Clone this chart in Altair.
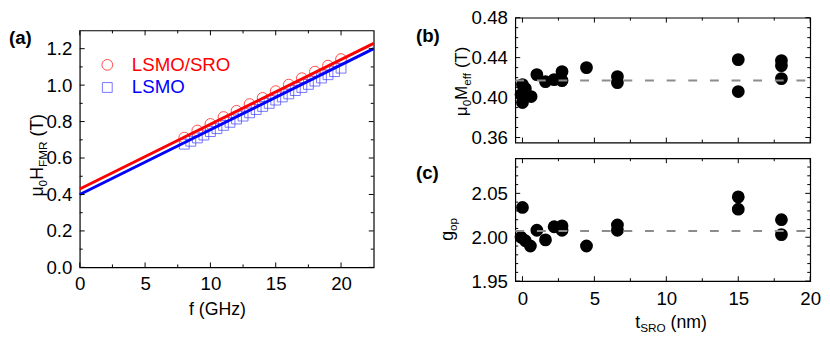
import altair as alt
import pandas as pd

FONT = "Liberation Sans"

# ---------------- Panel (a) data ----------------
f_sro = [8, 9, 10, 11, 12, 13, 14, 15, 16, 17, 18, 19, 20]
h_sro = [0.712, 0.751, 0.787, 0.825, 0.859, 0.896, 0.930, 0.967, 1.003, 1.038, 1.074, 1.107, 1.143]
f_lsmo = [8.0, 8.5, 9.0, 9.5, 10.0, 10.5, 11.0, 11.5, 12.0, 12.5, 13.0, 13.5, 14.0,
          14.5, 15.0, 15.5, 16.0, 16.5, 17.0, 17.5, 18.0, 18.5, 19.0, 19.5, 20.0]
h_lsmo = [0.676, 0.692, 0.710, 0.726, 0.745, 0.761, 0.779, 0.796, 0.814, 0.830, 0.848, 0.866, 0.883,
          0.900, 0.918, 0.935, 0.952, 0.970, 0.987, 1.004, 1.022, 1.039, 1.057, 1.074, 1.093]
fit_f = [0.0, 22.5]
fit_sro = [0.430, 1.229]
fit_lsmo = [0.400, 1.200]
legend_names = ["LSMO/SRO", "LSMO"]

# ---------------- Panel (b) data ----------------
t_b = [-0.1, 0.0, 0.0, 0.2, 0.6, 1.0, 1.6, 2.2, 2.75, 2.75, 4.45, 6.6, 6.6, 15.0, 15.0, 18.0, 18.0, 18.0]
m_b = [0.403, 0.413, 0.395, 0.409, 0.401, 0.423, 0.416, 0.418, 0.426, 0.417, 0.430, 0.421, 0.415,
       0.438, 0.406, 0.437, 0.432, 0.419]
mean_b = 0.417

# ---------------- Panel (c) data ----------------
t_c = [0.0, -0.1, 0.2, 0.55, 1.0, 1.6, 2.2, 2.75, 2.75, 4.45, 6.6, 6.6, 15.0, 15.0, 18.0, 18.0]
g_c = [2.034, 2.000, 1.996, 1.990, 2.008, 1.997, 2.012, 2.013, 2.008, 1.990, 2.014, 2.008,
       2.046, 2.032, 2.020, 2.003]
mean_c = 2.007
t_range = [-0.5, 20.0]

# ---------------- tick values ----------------
a_xmaj = [0, 5, 10, 15, 20]
a_xmin = [2.5, 7.5, 12.5, 17.5]
a_ymaj = [0.0, 0.2, 0.4, 0.6, 0.8, 1.0, 1.2]
a_ymin = [0.1, 0.3, 0.5, 0.7, 0.9, 1.1]
t_xmaj = [0, 5, 10, 15, 20]
t_xmin = [2.5, 7.5, 12.5, 17.5]
b_ymaj = [0.36, 0.40, 0.44, 0.48]
b_ymin = [0.37, 0.38, 0.39, 0.41, 0.42, 0.43, 0.45, 0.46, 0.47]
c_ymaj = [1.95, 2.00, 2.05]
c_ymin = [1.96, 1.97, 1.98, 1.99, 2.01, 2.02, 2.03, 2.04, 2.06, 2.07, 2.08]

# character advance widths (Arial/Liberation Sans, per 1000 em)
CW = {"μ": 576, "0": 556, "H": 722, "F": 611, "M": 833, "R": 722, " ": 278, "(": 333, ")": 333,
      "T": 611, "e": 556, "f": 278, "g": 556, "o": 556, "p": 556, "t": 278, "S": 667, "O": 778,
      "n": 556, "m": 833}


def text_w(s, fs):
    return sum(CW.get(c, 556) for c in s) * fs / 1000.0


def one(text):
    return pd.DataFrame({"t": [text]})


def txt(text, x, y, fs, color="black", bold=False, angle=0, align="left", baseline="alphabetic"):
    kw = dict(fontSize=fs, font=FONT, color=color, align=align, baseline=baseline,
              fontWeight="bold" if bold else "normal")
    if angle:
        kw["angle"] = angle
    return alt.Chart(one(text)).mark_text(**kw).encode(
        text="t:N", x=alt.value(x), y=alt.value(y))


def rot_title(segments, x0, y0, fs, sfs, shift):
    layers = []
    pos = y0
    for s, sub in segments:
        size = sfs if sub else fs
        lead = len(s) - len(s.lstrip(" "))
        pos -= text_w(" " * lead, size)
        s = s.lstrip(" ")
        layers.append(txt(s, x0 + (shift if sub else 0), pos, size, angle=270))
        pos -= text_w(s, size)
    return layers


def hor_title(segments, x0, y0, fs, sfs, shift):
    layers = []
    pos = x0
    for s, sub in segments:
        size = sfs if sub else fs
        lead = len(s) - len(s.lstrip(" "))
        pos += text_w(" " * lead, size)
        s = s.lstrip(" ")
        layers.append(txt(s, pos, y0 + (shift if sub else 0), size))
        pos += text_w(s, size)
    return layers


def tick_layers(xenc, yenc, xmaj, xmin, ymaj, ymin, W, H, top=True):
    layers = []
    for vals, L in [(xmaj, 5), (xmin, 3)]:
        df = pd.DataFrame({"x": vals})
        layers.append(alt.Chart(df).mark_rule(color="black", strokeWidth=1).encode(
            x=xenc, y=alt.value(H), y2=alt.value(H - L)))
        if top:
            layers.append(alt.Chart(df).mark_rule(color="black", strokeWidth=1).encode(
                x=xenc, y=alt.value(0), y2=alt.value(L)))
    for vals, L in [(ymaj, 5), (ymin, 3)]:
        df = pd.DataFrame({"y": vals})
        layers.append(alt.Chart(df).mark_rule(color="black", strokeWidth=1).encode(
            y=yenc, x=alt.value(0), x2=alt.value(L)))
        layers.append(alt.Chart(df).mark_rule(color="black", strokeWidth=1).encode(
            y=yenc, x=alt.value(W), x2=alt.value(W - L)))
    return layers


def xaxis(vals, pad, labels=True):
    if labels:
        return alt.Axis(values=vals, ticks=False, tickSize=0, domain=False, grid=False,
                        labelFontSize=19, labelFont=FONT, labelColor="black", labelFlush=False,
                        labelPadding=pad, title=None, format="~g")
    return alt.Axis(values=vals, ticks=False, tickSize=0, domain=False, grid=False,
                    labels=False, title=None)


def yaxis(vals, fmt):
    return alt.Axis(values=vals, ticks=False, tickSize=0, domain=False, grid=False,
                    labelFontSize=19, labelFont=FONT, labelColor="black",
                    labelPadding=8, title=None, format=fmt)


# ================= Panel (a) =================
WA, HA = 299, 241
xa = alt.X("x:Q", scale=alt.Scale(domain=[0, 22.5], nice=False, zero=False), axis=xaxis(a_xmaj, 8))
ya = alt.Y("y:Q", scale=alt.Scale(domain=[0, 1.3], nice=False, zero=False), axis=yaxis(a_ymaj, ".1f"))

df_sro = pd.DataFrame({"x": f_sro, "y": h_sro})
df_lsmo = pd.DataFrame({"x": f_lsmo, "y": h_lsmo})
df_fit_sro = pd.DataFrame({"x": fit_f, "y": fit_sro})
df_fit_lsmo = pd.DataFrame({"x": fit_f, "y": fit_lsmo})

a_layers = [
    alt.Chart(df_lsmo).mark_point(shape="square", filled=False, size=100, color="#3c3cff",
                                  strokeWidth=1).encode(x=xa, y=ya),
    alt.Chart(df_sro).mark_point(shape="circle", filled=False, size=120, color="#ff0000",
                                 strokeWidth=1).encode(x=xa, y=ya),
    alt.Chart(df_fit_lsmo).mark_line(color="#0000ff", strokeWidth=3).encode(x=xa, y=ya),
    alt.Chart(df_fit_sro).mark_line(color="#ff0000", strokeWidth=3).encode(x=xa, y=ya),
]
a_layers += tick_layers(xa, ya, a_xmaj, a_xmin, a_ymaj, a_ymin, WA, HA)
# legend
a_layers += [
    alt.Chart(one(legend_names[0])).mark_point(shape="circle", filled=False, size=120,
                                               color="#ff0000", strokeWidth=1).encode(
        x=alt.value(28), y=alt.value(35)),
    alt.Chart(one(legend_names[1])).mark_point(shape="square", filled=False, size=100,
                                               color="#3c3cff", strokeWidth=1).encode(
        x=alt.value(28), y=alt.value(58)),
    txt(legend_names[0], 53, 35, 19, color="#ff0000", baseline="middle"),
    txt(legend_names[1], 53, 58, 19, color="#0000ff", baseline="middle"),
    txt("(a)", -72, 8, 19, bold=True, baseline="middle"),
    txt("f (GHz)", 140, 289, 18, align="center"),
]
a_layers += rot_title([("μ", False), ("0", True), ("H", False), ("FMR", True), (" (T)", False)],
                      -37, 169, 18, 12, 4)
panel_a = alt.layer(*a_layers).properties(width=WA, height=HA)

# tiny invisible spacer placed above panel (a) so that it sits lower than panel (b)
spacer = alt.Chart(one("")).mark_point(opacity=0, size=0).encode(
    x=alt.value(0), y=alt.value(0)).properties(
    width=WA, height=1, view=alt.ViewBackground(stroke="transparent"))

# ================= Panel (b) =================
WB, HB = 300, 127
xb = alt.X("x:Q", scale=alt.Scale(domain=t_range, nice=False, zero=False), axis=xaxis(t_xmaj, 9, labels=False))
yb = alt.Y("y:Q", scale=alt.Scale(domain=[0.355, 0.48], nice=False, zero=False), axis=yaxis(b_ymaj, ".2f"))
df_b = pd.DataFrame({"x": t_b, "y": m_b})
df_bm = pd.DataFrame({"x": t_range, "y": [mean_b, mean_b]})
b_layers = [
    alt.Chart(df_b).mark_point(shape="circle", filled=True, size=170, color="black", opacity=1).encode(x=xb, y=yb),
    alt.Chart(df_bm).mark_line(color="#8c8c8c", strokeWidth=2, strokeDash=[9, 13]).encode(x=xb, y=yb),
]
b_layers += tick_layers(xb, yb, t_xmaj, t_xmin, b_ymaj, b_ymin, WB, HB)
b_layers += [txt("(b)", -101, 19, 19, bold=True, baseline="middle")]
b_layers += rot_title([("μ", False), ("0", True), ("M", False), ("eff", True), (" (T)", False)],
                      -49, 100, 17, 12, 4)
panel_b = alt.layer(*b_layers).properties(width=WB, height=HB)

# ================= Panel (c) =================
WC, HC = 300, 125
xc = alt.X("x:Q", scale=alt.Scale(domain=t_range, nice=False, zero=False), axis=xaxis(t_xmaj, 9))
yc = alt.Y("y:Q", scale=alt.Scale(domain=[1.95, 2.09], nice=False, zero=False), axis=yaxis(c_ymaj, ".2f"))
df_c = pd.DataFrame({"x": t_c, "y": g_c})
df_cm = pd.DataFrame({"x": t_range, "y": [mean_c, mean_c]})
c_layers = [
    alt.Chart(df_c).mark_point(shape="circle", filled=True, size=170, color="black", opacity=1).encode(x=xc, y=yc),
    alt.Chart(df_cm).mark_line(color="#8c8c8c", strokeWidth=2, strokeDash=[9, 13]).encode(x=xc, y=yc),
]
c_layers += tick_layers(xc, yc, t_xmaj, t_xmin, c_ymaj, c_ymin, WC, HC)
c_layers += [txt("(c)", -101, 15, 19, bold=True, baseline="middle")]
c_layers += rot_title([("g", False), ("op", True)], -63, 84, 18, 12, 4)
c_layers += hor_title([("t", False), ("SRO", True), (" (nm)", False)], 122, 173, 18, 12, 4)
panel_c = alt.layer(*c_layers).properties(width=WC, height=HC)

left = alt.vconcat(spacer, panel_a, spacing=12, bounds="flush")
right = alt.vconcat(panel_b, panel_c, spacing=16, bounds="flush")
chart = alt.hconcat(left, right, spacing=35).properties(
    padding={"left": 0, "top": -3, "right": 0, "bottom": 0}, background="white"
).configure_view(stroke="black", strokeWidth=1.2)

chart.save("out.html", embed_options={"renderer": "svg", "actions": False})
